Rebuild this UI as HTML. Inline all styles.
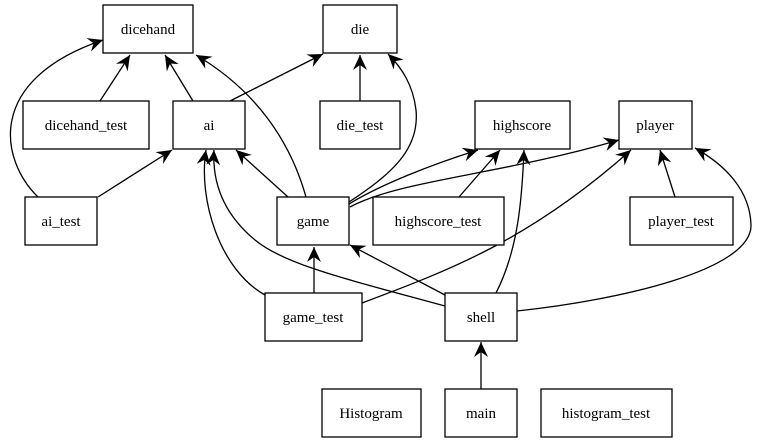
<!DOCTYPE html>
<html><head><meta charset="utf-8"><style>
html,body{margin:0;padding:0;background:#fff;}
svg{display:block;}
rect{fill:#fff;stroke:#000;stroke-width:1.3;}
path.e{fill:none;stroke:#000;stroke-width:1.3;}
text{font-family:"Liberation Serif","DejaVu Serif",serif;}
</style></head><body>
<svg width="758" height="443" viewBox="0 0 758 443" xmlns="http://www.w3.org/2000/svg">
<defs>
<marker id="a" markerUnits="userSpaceOnUse" markerWidth="18" markerHeight="16" refX="15" refY="7" orient="auto">
<path d="M0,0 L15,7 L0,14 L5,7 z" fill="#000"/>
</marker>
</defs>
<g marker-end="url(#a)">
<path class="e" d="M100,101 L130,55"/>
<path class="e" d="M193,101 L165,55"/>
<path class="e" d="M230,101 L323,54"/>
<path class="e" d="M360,101 L360,55"/>
<path class="e" d="M38,197 C0,160 -15,80 103,40"/>
<path class="e" d="M98,197 L172,150"/>
<path class="e" d="M306,197 C290,140 255,90 196,55"/>
<path class="e" d="M288,197 L236,150"/>
<path class="e" d="M349,202 C390,175 420,150 416,110 C413,85 402,68 388,54"/>
<path class="e" d="M349,204 C380,185 430,165 478,150"/>
<path class="e" d="M350,207 C400,180 500,175 619,140"/>
<path class="e" d="M459,197 L500,150"/>
<path class="e" d="M675,197 L660,150"/>
<path class="e" d="M314,293 L314,247"/>
<path class="e" d="M265,295 C220,270 198,200 206,150"/>
<path class="e" d="M362,303 C450,270 530,240 631,150"/>
<path class="e" d="M445,306 C350,280 285,265 255,240 C225,215 212,185 214,150"/>
<path class="e" d="M445,295 L350,245"/>
<path class="e" d="M496,293 C518,250 522,200 524,150"/>
<path class="e" d="M517,311 C620,300 752,270 751,225 C750,190 725,165 695,148"/>
<path class="e" d="M481,389 L481,342"/>
</g>
<g font-size="15" text-anchor="middle" fill="#000">
<rect x="103" y="5" width="90" height="48"/><text x="148" y="34">dicehand</text>
<rect x="323" y="5" width="74" height="48"/><text x="360" y="34">die</text>
<rect x="23" y="101" width="126" height="48"/><text x="86" y="130">dicehand_test</text>
<rect x="173" y="101" width="72" height="48"/><text x="209" y="130">ai</text>
<rect x="320" y="101" width="80" height="48"/><text x="360" y="130">die_test</text>
<rect x="475" y="101" width="95" height="48"/><text x="522" y="130">highscore</text>
<rect x="619" y="101" width="73" height="48"/><text x="655" y="130">player</text>
<rect x="25" y="197" width="72" height="48"/><text x="61" y="226">ai_test</text>
<rect x="277" y="197" width="72" height="48"/><text x="313" y="226">game</text>
<rect x="373" y="197" width="131" height="48"/><text x="438" y="226">highscore_test</text>
<rect x="630" y="197" width="103" height="48"/><text x="681" y="226">player_test</text>
<rect x="265" y="293" width="97" height="48"/><text x="313" y="322">game_test</text>
<rect x="445" y="293" width="72" height="48"/><text x="481" y="322">shell</text>
<rect x="322" y="389" width="99" height="48"/><text x="371" y="418">Histogram</text>
<rect x="445" y="389" width="72" height="48"/><text x="481" y="418">main</text>
<rect x="541" y="389" width="131" height="48"/><text x="606" y="418">histogram_test</text>
</g>
</svg>
</body></html>
